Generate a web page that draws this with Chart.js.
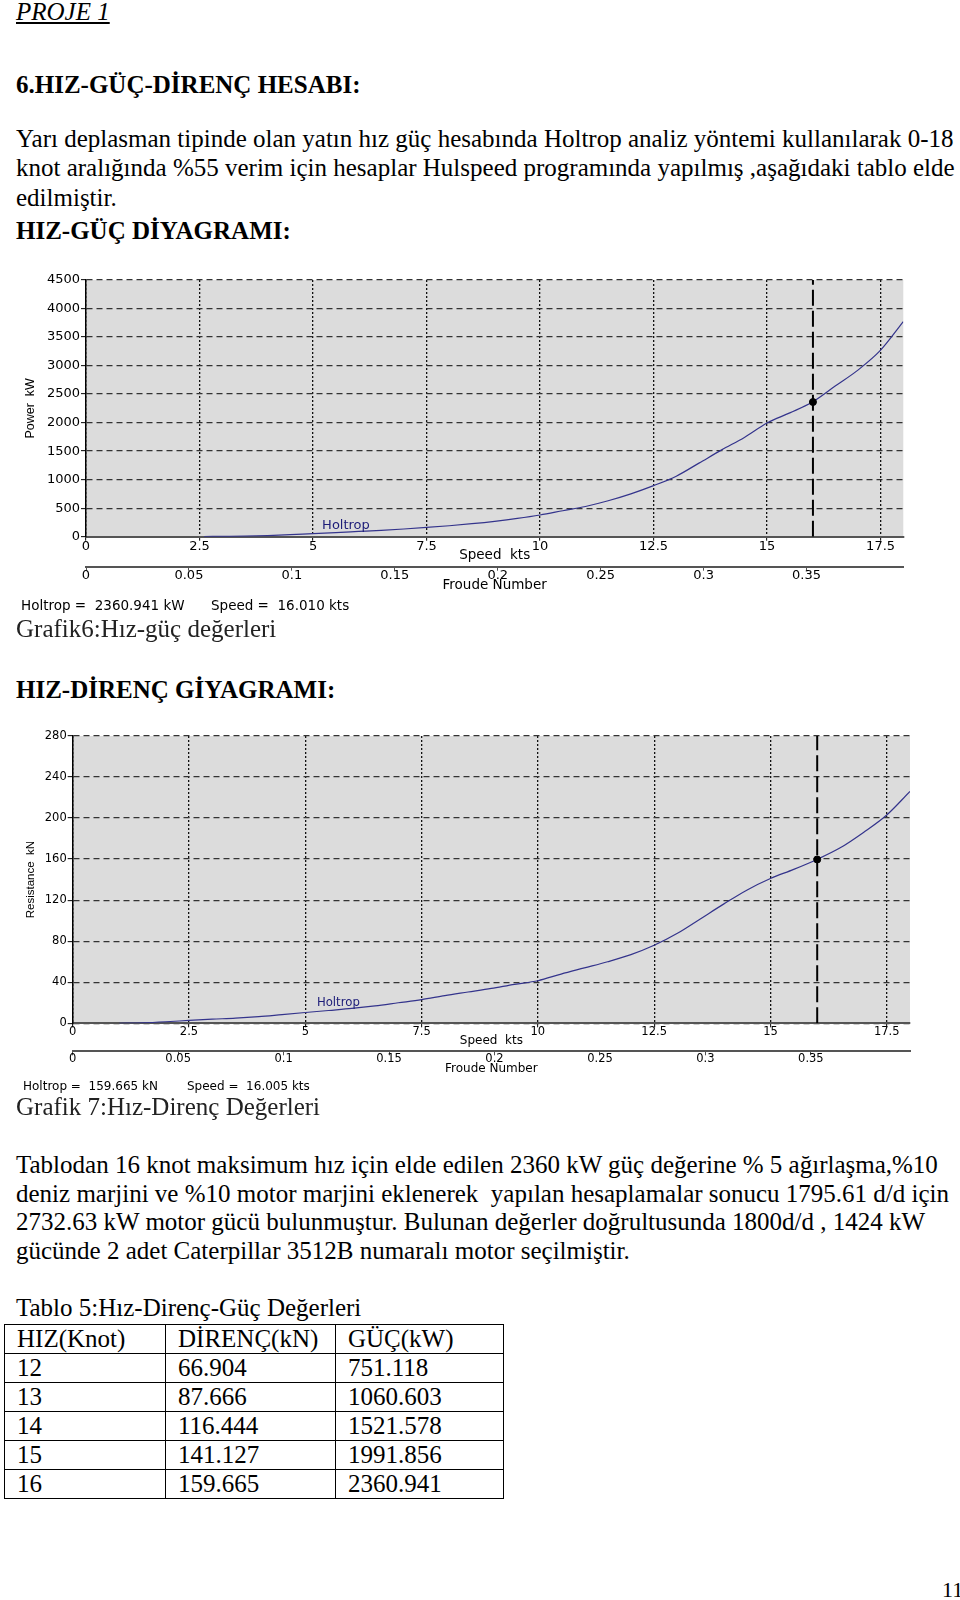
<!DOCTYPE html>
<html lang="tr">
<head>
<meta charset="UTF-8">
<title>Hız-Güç-Direnç Hesabı</title>
<script src="https://cdn.jsdelivr.net/npm/chart.js@4.4.1/dist/chart.umd.min.js"></script>
<style>
    html, body { margin: 0; padding: 0; background: #fff; }
    body { width: 960px; height: 1600px; position: relative; overflow: hidden;
           font-family: "Liberation Serif", "Times New Roman", serif; color: #000; }
    .line { position: absolute; left: 16px; font-size: 25px; line-height: 30px; white-space: pre; }
    .b { font-weight: bold; }
    .cap { color: #222; }
    .foot { position: absolute; font-family: "DejaVu Sans", sans-serif; font-size: 13.5px;
            line-height: 16px; white-space: pre; color: #000; }
    .foot.sm { font-size: 12px; }
    canvas { position: absolute; left: 0; }
    table { position: absolute; left: 4px; top: 1324px; border-collapse: collapse;
            table-layout: fixed; font-size: 25px; }
    td { border: 1.5px solid #000; padding: 0 0 0 12px; height: 28px; line-height: 28px; white-space: nowrap; }
</style>
</head>
<body>

<div class="line" style="top:-3px; font-style:italic; text-decoration:underline;">PROJE 1</div>
<div class="line b" style="top:70px;">6.HIZ-GÜÇ-DİRENÇ HESABI:</div>
<div class="line" style="top:124px;">Yarı deplasman tipinde olan yatın hız güç hesabında Holtrop analiz yöntemi kullanılarak 0-18</div>
<div class="line" style="top:153px;">knot aralığında %55 verim için hesaplar Hulspeed programında yapılmış ,aşağıdaki tablo elde</div>
<div class="line" style="top:183px;">edilmiştir.</div>
<div class="line b" style="top:216px;">HIZ-GÜÇ DİYAGRAMI:</div>

<canvas id="powerChart" width="960" height="340" style="top:260px;"></canvas>
<div class="foot" style="left:21px; top:597px;">Holtrop =  2360.941 kW</div>
<div class="foot" style="left:211px; top:597px;">Speed =  16.010 kts</div>

<div class="line cap" style="top:614px;">Grafik6:Hız-güç değerleri</div>
<div class="line b" style="top:675px;">HIZ-DİRENÇ GİYAGRAMI:</div>

<canvas id="resistanceChart" width="960" height="360" style="top:720px;"></canvas>
<div class="foot sm" style="left:23px; top:1078px;">Holtrop =  159.665 kN</div>
<div class="foot sm" style="left:187px; top:1078px;">Speed =  16.005 kts</div>

<div class="line cap" style="top:1092px;">Grafik 7:Hız-Direnç Değerleri</div>
<div class="line" style="top:1150px;">Tablodan 16 knot maksimum hız için elde edilen 2360 kW güç değerine % 5 ağırlaşma,%10</div>
<div class="line" style="top:1179px;">deniz marjini ve %10 motor marjini eklenerek  yapılan hesaplamalar sonucu 1795.61 d/d için</div>
<div class="line" style="top:1207px;">2732.63 kW motor gücü bulunmuştur. Bulunan değerler doğrultusunda 1800d/d , 1424 kW</div>
<div class="line" style="top:1236px;">gücünde 2 adet Caterpillar 3512B numaralı motor seçilmiştir.</div>
<div class="line" style="top:1293px;">Tablo 5:Hız-Direnç-Güç Değerleri</div>

<table>
    <colgroup><col style="width:161px"><col style="width:170px"><col style="width:168px"></colgroup>
    <tr><td>HIZ(Knot)</td><td>DİRENÇ(kN)</td><td>GÜÇ(kW)</td></tr>
    <tr><td>12</td><td>66.904</td><td>751.118</td></tr>
    <tr><td>13</td><td>87.666</td><td>1060.603</td></tr>
    <tr><td>14</td><td>116.444</td><td>1521.578</td></tr>
    <tr><td>15</td><td>141.127</td><td>1991.856</td></tr>
    <tr><td>16</td><td>159.665</td><td>2360.941</td></tr>
</table>

<div class="line" style="left:942px; top:1575px; font-size:22px;">11</div>

<script>
// --- Veriler ---
const powerSpeed = [2.6, 3, 3.5, 4, 4.5, 5, 5.5, 6, 6.5, 7, 7.5, 8, 8.5, 9, 9.5, 10, 10.5, 11, 11.5, 12,
                    12.5, 13, 13.5, 14, 14.5, 15, 15.5, 16, 16.5, 17, 17.5, 18];
const powerKW = [3, 6, 10, 20, 35, 55, 72, 92, 112, 135, 162, 192, 228, 270, 320, 380, 455, 530, 630, 751,
                 895, 1061, 1290, 1522, 1740, 1992, 2170, 2361, 2640, 2920, 3270, 3770];

const resSpeed = [1, 1.5, 2, 2.5, 3, 3.5, 4, 4.5, 5, 5.5, 6, 6.5, 7, 7.5, 8, 8.5, 9, 9.5, 10, 10.5, 11,
                  11.5, 12, 12.5, 13, 13.5, 14, 14.5, 15, 15.5, 16, 16.5, 17, 17.5, 18];
const resKN = [0, 0.5, 1.5, 2.8, 4, 5, 6.5, 8.5, 10.5, 12.5, 14.5, 17, 20, 23, 27, 30.5, 34, 38, 41.5, 48, 54,
               60, 66.9, 76, 87.7, 102, 116.4, 130, 141.1, 150, 159.7, 171, 186, 203, 226];

// seçili nokta (imleç)
const markerPower = [16.010, 2360.941];
const markerRes = [16.005, 159.665];

// eksen değerleri
const speedTicks = [0, 2.5, 5, 7.5, 10, 12.5, 15, 17.5];
const froudeTicks = [0, 0.05, 0.1, 0.15, 0.2, 0.25, 0.3, 0.35];
const powerTicks = [0, 500, 1000, 1500, 2000, 2500, 3000, 3500, 4000, 4500];
const resTicks = [0, 40, 80, 120, 160, 200, 240, 280];
const speedMax = 18;
const froudeMax = 0.397;

// eğri etiketinin yeri
const powerLabelAt = [5.2, 190];
const resLabelAt = [5.25, 20];

document.addEventListener('DOMContentLoaded', () => {

    // gri çizim alanı
    const plotBackground = {
        id: 'plotBackground',
        beforeDraw(chart) {
            const { ctx, chartArea: a } = chart;
            ctx.save();
            ctx.fillStyle = '#dcdcdc';
            ctx.fillRect(a.left, a.top, a.right - a.left, a.bottom - a.top);
            ctx.restore();
        }
    };

    // "Holtrop" yazısı
    const curveLabel = {
        id: 'curveLabel',
        afterDatasetsDraw(chart, args, opts) {
            const { ctx, scales } = chart;
            ctx.save();
            ctx.font = opts.size + 'px "DejaVu Sans"';
            ctx.fillStyle = '#1c1c78';
            ctx.textBaseline = 'middle';
            ctx.fillText(opts.text, scales.x.getPixelForValue(opts.at[0]), scales.y.getPixelForValue(opts.at[1]));
            ctx.restore();
        }
    };

    const toPoints = (xs, ys) => xs.map((v, i) => ({ x: v, y: ys[i] }));
    const useTicks = (list) => (scale) => { scale.ticks = list.map(v => ({ value: v })); };

    function buildChart(canvasId, cfg) {
        const ctx = document.getElementById(canvasId).getContext('2d');
        const yMax = cfg.yTicks[cfg.yTicks.length - 1];
        const SMALL = { family: 'DejaVu Sans', size: cfg.tickSize };
        const TITLE = { family: 'DejaVu Sans', size: cfg.titleSize };
        return new Chart(ctx, {
            type: 'scatter',
            data: {
                datasets: [{
                    data: [cfg.marker],
                    pointRadius: 3.5,
                    pointBackgroundColor: '#000',
                    pointBorderColor: '#000',
                    order: 0
                }, {
                    data: toPoints(cfg.xs, cfg.ys),
                    showLine: true,
                    borderColor: '#34348c',
                    borderWidth: 1.2,
                    pointRadius: 0,
                    cubicInterpolationMode: 'monotone',
                    order: 1
                }, {
                    data: [{ x: cfg.marker.x, y: 0 }, { x: cfg.marker.x, y: yMax }],
                    showLine: true,
                    borderColor: '#000',
                    borderWidth: 2,
                    borderDash: [16, 5],
                    pointRadius: 0,
                    order: 2
                }]
            },
            options: {
                responsive: false,
                animation: false,
                events: [],
                layout: { padding: cfg.padding },
                plugins: {
                    legend: { display: false },
                    tooltip: { enabled: false },
                    curveLabel: { text: 'Holtrop', at: cfg.labelAt, size: cfg.labelSize }
                },
                scales: {
                    x: {
                        type: 'linear', position: 'bottom', min: 0, max: speedMax,
                        afterBuildTicks: useTicks(speedTicks),
                        afterFit: (s) => { s.height = cfg.xHeight; },
                        ticks: { callback: v => String(v), font: SMALL, color: '#000', padding: -2,
                                 maxRotation: 0, autoSkip: false },
                        grid: { color: '#111', lineWidth: 1.3, tickLength: 4, tickColor: '#000', tickWidth: 1 },
                        border: { color: '#555', width: 2, dash: [2, 2] },
                        title: { display: true, text: 'Speed  kts', font: TITLE, color: '#000',
                                 padding: { top: 0, bottom: 3 } }
                    },
                    x2: {
                        type: 'linear', position: 'bottom', min: 0, max: froudeMax,
                        afterBuildTicks: useTicks(froudeTicks),
                        afterFit: (s) => { s.height = cfg.x2Height; },
                        ticks: { callback: v => String(v), font: SMALL, color: '#000', padding: -3,
                                 maxRotation: 0, autoSkip: false },
                        grid: { drawOnChartArea: false, tickLength: 4, color: '#555', tickWidth: 1 },
                        border: { color: '#555', width: 2 },
                        title: { display: true, text: 'Froude Number', font: TITLE, color: '#000',
                                 padding: { top: 0, bottom: 0 } }
                    },
                    y: {
                        type: 'linear', position: 'left', min: 0, max: yMax,
                        afterBuildTicks: useTicks(cfg.yTicks),
                        afterFit: (s) => { s.width = cfg.yWidth; },
                        ticks: { callback: v => String(v), font: SMALL, color: '#000', padding: 1 },
                        grid: { color: '#333', lineWidth: 1.3, tickLength: 5, tickColor: '#000', tickWidth: 1 },
                        border: { color: '#000', width: 1.5, dash: [6, 4] },
                        title: { display: true, text: cfg.yTitle, color: '#000',
                                 font: { family: 'Liberation Sans', size: cfg.yTitleSize },
                                 padding: { top: cfg.yTitlePad, bottom: 0 } }
                    }
                }
            },
            plugins: [plotBackground, curveLabel]
        });
    }

    // --- Grafikler ---
    buildChart('powerChart', {
        xs: powerSpeed, ys: powerKW,
        marker: { x: markerPower[0], y: markerPower[1] },
        yTicks: powerTicks, yTitle: 'Power  kW',
        labelAt: powerLabelAt,
        padding: { top: 20, right: 56.7, bottom: 6.3, left: 0 },
        yWidth: 86, xHeight: 30, x2Height: 27, yTitleSize: 12.5, yTitlePad: 23.1,
        tickSize: 13, titleSize: 13.5, labelSize: 13
    });

    buildChart('resistanceChart', {
        xs: resSpeed, ys: resKN,
        marker: { x: markerRes[0], y: markerRes[1] },
        yTicks: resTicks, yTitle: 'Resistance  kN',
        labelAt: resLabelAt,
        padding: { top: 16, right: 50, bottom: 3.7, left: 0 },
        yWidth: 72.7, xHeight: 28, x2Height: 25, yTitleSize: 11.5, yTitlePad: 23.7,
        tickSize: 11.5, titleSize: 12, labelSize: 11.7
    });
});
</script>
</body>
</html>
